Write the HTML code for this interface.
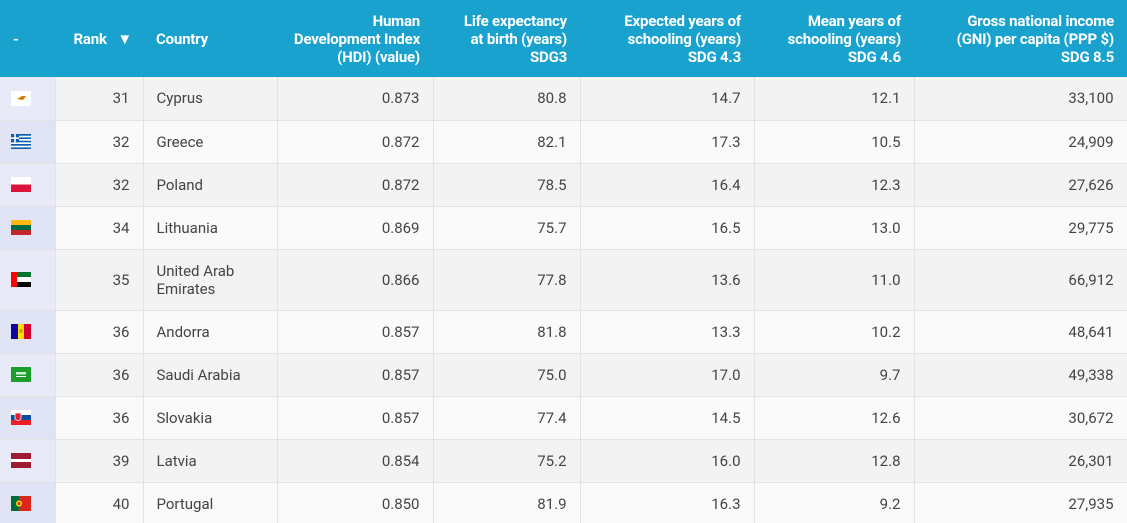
<!DOCTYPE html>
<html><head><meta charset="utf-8">
<style>
html,body{margin:0;padding:0;width:1127px;height:523px;overflow:hidden;background:#fafafa;font-family:"Roboto","Liberation Sans",sans-serif;}
table{border-collapse:collapse;table-layout:fixed;width:1127px;}
th{background:#1aa2cf;color:#fff;font-weight:bold;font-size:15px;line-height:18px;height:77px;padding:0 13px;text-align:right;vertical-align:middle;box-sizing:border-box;white-space:nowrap;letter-spacing:-0.2px}
th.l{text-align:left}
td{font-size:15px;color:#444;padding:0 13px;text-align:right;border:1px solid #e2e2e2;border-top:none;box-sizing:border-box;height:43px;line-height:18px;}
td.l{text-align:left}
tr.tall td{height:61px}
tr:nth-child(odd) td{background:#f3f3f3}
tr:nth-child(even) td{background:#fafafa}
td.f{background:#e8eaf7!important;padding:0 0 0 11px;text-align:left;border-left:none}
tr:nth-child(even) td.f{background:#e1e4f4!important}
.flag{width:20px;height:15px;display:block;}
</style></head><body>
<table>
<colgroup><col style="width:55px"><col style="width:88px"><col style="width:134px"><col style="width:156px"><col style="width:147px"><col style="width:174px"><col style="width:160px"><col style="width:213px"></colgroup>
<thead><tr>
<th class="l">-</th>
<th style="padding-right:11px">Rank&nbsp;&nbsp;&nbsp;▼</th>
<th class="l">Country</th>
<th>Human<br>Development Index<br>(HDI) (value)</th>
<th>Life expectancy<br>at birth (years)<br>SDG3</th>
<th>Expected years of<br>schooling (years)<br>SDG 4.3</th>
<th>Mean years of<br>schooling (years)<br>SDG 4.6</th>
<th>Gross national income<br>(GNI) per capita (PPP $)<br>SDG 8.5</th>
</tr></thead>
<tbody>
<tr><td class="f"><svg class="flag"><rect width="20" height="15" fill="#fff"/><path d="M6 8 L11 5 L15 5 L12 9 Z" fill="#d57800"/></svg></td><td>31</td><td class="l">Cyprus</td><td>0.873</td><td>80.8</td><td>14.7</td><td>12.1</td><td>33,100</td></tr>
<tr><td class="f"><svg class="flag"><rect width="20" height="15" fill="#0d5eaf"/><g fill="#fff"><rect y="1.7" width="20" height="1.7"/><rect y="5" width="20" height="1.7"/><rect y="8.3" width="20" height="1.7"/><rect y="11.7" width="20" height="1.7"/></g><rect width="8" height="8.3" fill="#0d5eaf"/><rect x="3.2" width="1.6" height="8.3" fill="#fff"/><rect y="3.3" width="8" height="1.6" fill="#fff"/></svg></td><td>32</td><td class="l">Greece</td><td>0.872</td><td>82.1</td><td>17.3</td><td>10.5</td><td>24,909</td></tr>
<tr><td class="f"><svg class="flag"><rect width="20" height="7.5" fill="#fff"/><rect y="7.5" width="20" height="7.5" fill="#dc143c"/></svg></td><td>32</td><td class="l">Poland</td><td>0.872</td><td>78.5</td><td>16.4</td><td>12.3</td><td>27,626</td></tr>
<tr><td class="f"><svg class="flag"><rect width="20" height="5" fill="#fdb913"/><rect y="5" width="20" height="5" fill="#006a44"/><rect y="10" width="20" height="5" fill="#c1272d"/></svg></td><td>34</td><td class="l">Lithuania</td><td>0.869</td><td>75.7</td><td>16.5</td><td>13.0</td><td>29,775</td></tr>
<tr class="tall"><td class="f"><svg class="flag"><rect width="20" height="5" fill="#00732f"/><rect y="5" width="20" height="5" fill="#fff"/><rect y="10" width="20" height="5" fill="#000"/><rect width="6" height="15" fill="#ff0000"/></svg></td><td>35</td><td class="l">United Arab Emirates</td><td>0.866</td><td>77.8</td><td>13.6</td><td>11.0</td><td>66,912</td></tr>
<tr><td class="f"><svg class="flag"><rect width="7" height="15" fill="#10069f"/><rect x="7" width="6" height="15" fill="#fedf00"/><rect x="13" width="7" height="15" fill="#d50032"/><rect x="8.5" y="5" width="3" height="4" fill="#c7a000"/></svg></td><td>36</td><td class="l">Andorra</td><td>0.857</td><td>81.8</td><td>13.3</td><td>10.2</td><td>48,641</td></tr>
<tr><td class="f"><svg class="flag"><rect width="20" height="15" fill="#1b9e2c"/><rect x="5" y="5" width="10" height="2.5" fill="#fff" opacity=".8"/><rect x="5" y="9" width="10" height="1" fill="#fff"/></svg></td><td>36</td><td class="l">Saudi Arabia</td><td>0.857</td><td>75.0</td><td>17.0</td><td>9.7</td><td>49,338</td></tr>
<tr><td class="f"><svg class="flag"><rect width="20" height="5" fill="#fff"/><rect y="5" width="20" height="5" fill="#0b4ea2"/><rect y="10" width="20" height="5" fill="#ee1c25"/><path d="M4 3 H10 V9 Q7 12 4 9 Z" fill="#ee1c25" stroke="#fff" stroke-width=".8"/></svg></td><td>36</td><td class="l">Slovakia</td><td>0.857</td><td>77.4</td><td>14.5</td><td>12.6</td><td>30,672</td></tr>
<tr><td class="f"><svg class="flag"><rect width="20" height="15" fill="#9e1b34"/><rect y="6" width="20" height="3" fill="#fff"/></svg></td><td>39</td><td class="l">Latvia</td><td>0.854</td><td>75.2</td><td>16.0</td><td>12.8</td><td>26,301</td></tr>
<tr><td class="f"><svg class="flag"><rect width="8" height="15" fill="#046a38"/><rect x="8" width="12" height="15" fill="#da291c"/><circle cx="8" cy="7.5" r="3" fill="#ffe900"/><circle cx="8" cy="7.5" r="1.6" fill="#da291c"/></svg></td><td>40</td><td class="l">Portugal</td><td>0.850</td><td>81.9</td><td>16.3</td><td>9.2</td><td>27,935</td></tr>
</tbody></table>
</body></html>
